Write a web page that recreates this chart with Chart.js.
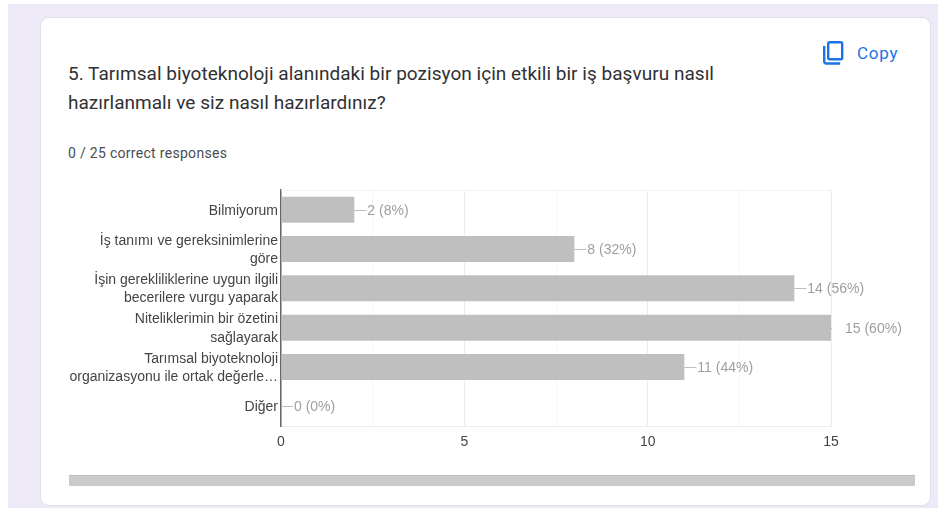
<!DOCTYPE html>
<html lang="en">
<head>
    <meta charset="UTF-8">
    <title>Chart</title>
    <script src="https://cdn.jsdelivr.net/npm/chart.js"></script>
    <style>
        html, body { margin: 0; padding: 0; background: #fff; overflow: hidden; }
        .page { position: absolute; left: 8px; top: 4px; width: 930px; height: 504px; background: #ede9f7; }
        .card {
            position: absolute; left: 32px; top: 13px; width: 889px; height: 487px;
            background: #fff; border: 1px solid #e2dfe9; border-radius: 9px;
        }
        .title {
            position: absolute; left: 68px; top: 59px; width: 700px;
            font: 19px/29px Roboto, sans-serif; color: #303134; letter-spacing: 0.03px;
        }
        .count { position: absolute; left: 68px; top: 144px; font: 14px/18px Roboto, sans-serif; color: #4a4d51; letter-spacing: 0.3px; }
        .copy { position: absolute; left: 857px; top: 42px; font: 400 17px/22px Roboto, sans-serif; color: #1a73e8; letter-spacing: 0.75px; }
        .icon { position: absolute; left: 822px; top: 40px; }
        .bar { position: absolute; left: 69px; top: 475px; width: 846px; height: 11px; background: #cbcbcb; border-top: 1px solid #bdbdbd; box-sizing: border-box; }
        #wrap { position: absolute; left: 60px; top: 180px; width: 860px; height: 280px; }
        #wrap canvas { display: block; }
    </style>
</head>
<body>
    <div class="page"><div class="card"></div></div>
    <div class="title">5. Tarımsal biyoteknoloji alanındaki bir pozisyon için etkili bir iş başvuru nasıl<br>hazırlanmalı ve siz nasıl hazırlardınız?</div>
    <div class="count">0 / 25 correct responses</div>
    <svg class="icon" width="24" height="26" viewBox="0 0 24 26" fill="none" stroke="#1a73e8" stroke-width="2.4">
        <rect x="6.2" y="2.2" width="14" height="17" rx="1.5"/>
        <path d="M2.2 6v15.5a2 2 0 0 0 2 2h14"/>
    </svg>
    <div class="copy">Copy</div>
    <div class="bar"></div>
    <div id="wrap"><canvas id="chart" width="860" height="280"></canvas></div>
    <script>
        const categories = [
            "Bilmiyorum",
            ["İş tanımı ve gereksinimlerine", "göre"],
            ["İşin gerekliliklerine uygun ilgili", "becerilere vurgu yaparak"],
            ["Niteliklerimin bir özetini", "sağlayarak"],
            ["Tarımsal biyoteknoloji", "organizasyonu ile ortak değerle…"],
            "Diğer"
        ];
        const counts = [2, 8, 14, 15, 11, 0];
        const percents = ["8%", "32%", "56%", "60%", "44%", "0%"];
        const xTickLabels = [0, 5, 10, 15];

        // connector line + "n (p%)" after each bar
        const valueLabels = {
            id: 'valueLabels',
            afterDatasetsDraw(chart) {
                const ctx = chart.ctx;
                const x = chart.scales.x;
                const y = chart.scales.y;
                ctx.save();
                ctx.font = '14px "Liberation Sans", Arial, sans-serif';
                ctx.textBaseline = 'middle';
                // faint line along the top of the plot
                ctx.strokeStyle = '#f3f3f3';
                ctx.beginPath();
                ctx.moveTo(x.left, y.top + 0.5);
                ctx.lineTo(x.right, y.top + 0.5);
                ctx.stroke();
                counts.forEach((count, i) => {
                    const end = x.getPixelForValue(count);
                    const mid = y.getPixelForValue(i);
                    const atMax = count === x.max;
                    ctx.strokeStyle = '#bdbdbd';
                    ctx.beginPath();
                    ctx.moveTo(end, Math.round(mid) + 0.5);
                    ctx.lineTo(end + (atMax ? 1 : 12), Math.round(mid) + 0.5);
                    ctx.stroke();
                    ctx.fillStyle = '#9e9e9e';
                    ctx.fillText(count + ' (' + percents[i] + ')', end + (atMax ? 14 : 13), mid + 1);
                });
                ctx.restore();
            }
        };

        new Chart(document.getElementById('chart'), {
            type: 'bar',
            data: {
                labels: categories,
                datasets: [{
                    data: counts,
                    backgroundColor: '#bfbfbf',
                    barPercentage: 0.66,
                    categoryPercentage: 1
                }]
            },
            options: {
                indexAxis: 'y',
                responsive: false,
                animation: false,
                layout: { padding: { top: 10, right: 89, bottom: 0, left: 0 } },
                plugins: { legend: { display: false }, tooltip: { enabled: false } },
                scales: {
                    x: {
                        min: 0,
                        max: 15,
                        afterFit: (scale) => { scale.height = 34; },
                        border: { display: true, color: '#ececec' },
                        grid: {
                            drawTicks: false,
                            color: (c) => c.tick.value % 5 === 0 ? '#ececec' : '#f6f6f6'
                        },
                        ticks: {
                            stepSize: 2.5,
                            autoSkip: false,
                            maxRotation: 0,
                            padding: 8,
                            color: '#444',
                            font: { family: '"Liberation Sans", Arial, sans-serif', size: 14 },
                            callback: (v) => xTickLabels.includes(v) ? v : ''
                        }
                    },
                    y: {
                        afterFit: (scale) => {
                            scale.width = 221;
                            // otherwise the label height pushes the plot top down
                            scale.paddingTop = 0;
                            scale.paddingBottom = 0;
                        },
                        border: { color: '#666', width: 1.5 },
                        grid: { display: false, drawTicks: false },
                        ticks: {
                            padding: 3,
                            labelOffset: 1,
                            autoSkip: false,
                            color: '#444',
                            font: { family: '"Liberation Sans", Arial, sans-serif', size: 14, lineHeight: 1.3 }
                        }
                    }
                }
            },
            plugins: [valueLabels]
        });
    </script>
</body>
</html>
